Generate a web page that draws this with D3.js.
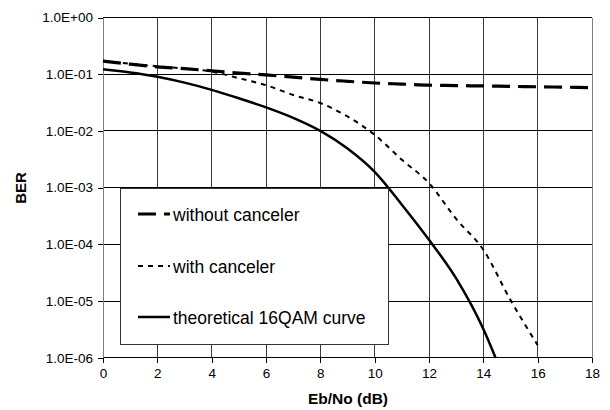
<!DOCTYPE html>
<html><head><meta charset="utf-8">
<script src="https://cdn.jsdelivr.net/npm/d3@7"></script>
<style>body{margin:0;background:#fff}svg{display:block}text{font-family:"Liberation Sans",Arial,sans-serif}</style>
</head><body>
<svg id="c" width="610" height="410"></svg>
<script>
const ebno = [0,1,2,3,4,5,6,7,8,9,10,11,12,13,14,15,16,17,18];
const withoutCanceler = [0.17,0.15,0.135,0.125,0.115,0.105,0.097,0.089,0.081,0.075,0.070,0.067,0.064,0.063,0.062,0.061,0.060,0.059,0.058];
const ebnoWith = [0,1,2,3,4,5,6,7,8,9,10,11,12,13,14,15,16];
const withCanceler = [0.172,0.153,0.138,0.125,0.111,0.085,0.064,0.043,0.031,0.018,0.0085,0.0031,0.0012,0.00028,0.00008,0.0000104,0.00000166];
const ebnoTheory = [0,1,2,3,4,5,6,7,8,9,10,11,12,13,14,14.45];
const theory16QAM = [0.122,0.107,0.090,0.071,0.053,0.0376,0.026,0.017,0.0100,0.0049,0.0019,0.0005,0.00012,0.000025,0.0000032,0.000001];
const xTicks = [0,2,4,6,8,10,12,14,16,18];
const yTicks = [1,1e-1,1e-2,1e-3,1e-4,1e-5,1e-6];
const yTickLabels = ["1.0E+00","1.0E-01","1.0E-02","1.0E-03","1.0E-04","1.0E-05","1.0E-06"];
const seriesNames = ["without canceler","with canceler","theoretical 16QAM curve"];

const svg = d3.select("#c");
const L=103, R=592, T=17.5, B=357.7;
const x = d3.scaleLinear().domain([0,18]).range([L,R]);
const y = d3.scaleLog().domain([1e-6,1]).range([B,T]);

// grid
svg.append("g").selectAll("line").data(xTicks.slice(1,-1)).join("line")
  .attr("x1",d=>x(d)).attr("x2",d=>x(d)).attr("y1",T).attr("y2",B)
  .attr("stroke","#3a3a3a").attr("stroke-width",1).attr("shape-rendering","crispEdges");
svg.append("g").selectAll("line").data(yTicks).join("line")
  .attr("x1",L).attr("x2",R).attr("y1",d=>y(d)).attr("y2",d=>y(d))
  .attr("stroke","#000").attr("stroke-width",1).attr("shape-rendering","crispEdges");
// borders
svg.append("line").attr("x1",L).attr("x2",L).attr("y1",T).attr("y2",B).attr("stroke","#808080").attr("shape-rendering","crispEdges");
svg.append("line").attr("x1",R).attr("x2",R).attr("y1",T).attr("y2",B).attr("stroke","#808080").attr("shape-rendering","crispEdges");

// axes
const yAxis = d3.axisLeft(y).tickValues(yTicks).tickFormat((d,i)=>yTickLabels[i]).tickSize(5).tickSizeOuter(0);
const gy = svg.append("g").attr("transform",`translate(${L},0)`).call(yAxis);
gy.select(".domain").remove();
gy.selectAll(".tick line").attr("stroke","#000").attr("shape-rendering","crispEdges");
gy.selectAll(".tick text").attr("x",-10).attr("font-size","13.5px").attr("font-family","Liberation Sans, Arial, sans-serif").attr("fill","#000");

const xAxis = d3.axisBottom(x).tickValues(xTicks).tickFormat(d3.format("d")).tickSize(5).tickSizeOuter(0);
const gx = svg.append("g").attr("transform",`translate(0,${B})`).call(xAxis);
gx.select(".domain").remove();
gx.selectAll(".tick line").attr("stroke","#000").attr("shape-rendering","crispEdges");
gx.selectAll(".tick text").attr("y",11).attr("font-size","13.5px").attr("font-family","Liberation Sans, Arial, sans-serif").attr("fill","#000");

// axis titles
svg.append("text").attr("transform","translate(26,188) rotate(-90)").attr("text-anchor","middle")
  .attr("font-weight","bold").attr("font-size","15px").text("BER");
svg.append("text").attr("x",348).attr("y",404).attr("text-anchor","middle")
  .attr("font-weight","bold").attr("font-size","15.5px").text("Eb/No (dB)");

const line = d3.line().curve(d3.curveMonotoneX).x(d=>x(d[0])).y(d=>y(d[1]));
const styles = [
  {w:3.2, dash:"18,8"},
  {w:2, dash:"5,5"},
  {w:2.5, dash:null}
];
const data = [
  ebno.map((e,i)=>[e,withoutCanceler[i]]),
  ebnoWith.map((e,i)=>[e,withCanceler[i]]),
  ebnoTheory.map((e,i)=>[e,theory16QAM[i]])
];

data.forEach((d,i)=>{
  svg.append("path").datum(d).attr("d",line).attr("fill","none").attr("stroke","#000")
    .attr("stroke-width",styles[i].w).attr("stroke-dasharray",styles[i].dash);
});

const lg = svg.append("g");
lg.append("rect").attr("x",120.5).attr("y",188.5).attr("width",268).attr("height",156)
  .attr("fill","#fff").attr("stroke","#333").attr("stroke-width",1);
const ly = [214,266,317];
seriesNames.forEach((n,i)=>{
  lg.append("line").attr("x1",138).attr("x2",170).attr("y1",ly[i]).attr("y2",ly[i])
    .attr("stroke","#000").attr("stroke-width",styles[i].w).attr("stroke-dasharray",styles[i].dash);
  lg.append("text").attr("x",173).attr("y",ly[i]+6.5).attr("font-size","17.5px").attr("fill","#000").text(n);
});
</script>
</body></html>
